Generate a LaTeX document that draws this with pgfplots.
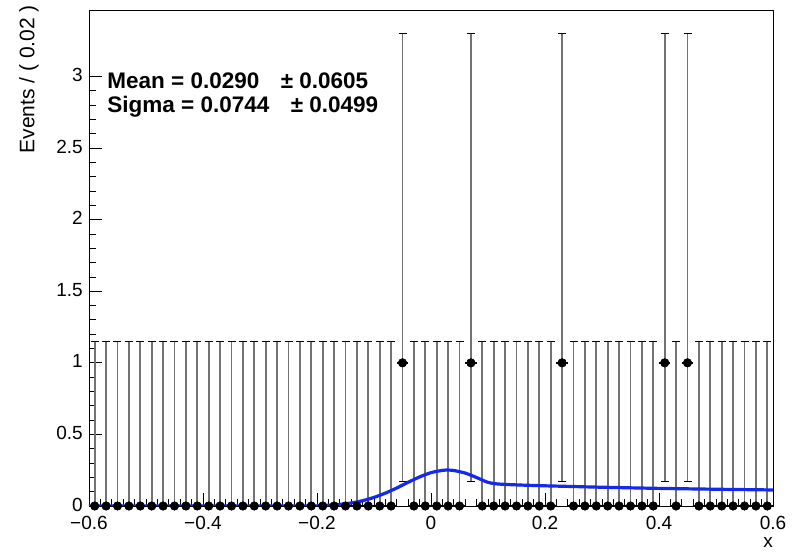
\documentclass[border=0pt]{standalone}
\usepackage{pgfplots}
\pgfplotsset{compat=1.18}
\usepackage{pgfplotstable}
\usepackage{fontspec}
\setmainfont{Liberation Sans}

\pgfplotstableread{
x y ep em
-0.59 0 1.148 0
-0.57 0 1.148 0
-0.55 0 1.148 0
-0.53 0 1.148 0
-0.51 0 1.148 0
-0.49 0 1.148 0
-0.47 0 1.148 0
-0.45 0 1.148 0
-0.43 0 1.148 0
-0.41 0 1.148 0
-0.39 0 1.148 0
-0.37 0 1.148 0
-0.35 0 1.148 0
-0.33 0 1.148 0
-0.31 0 1.148 0
-0.29 0 1.148 0
-0.27 0 1.148 0
-0.25 0 1.148 0
-0.23 0 1.148 0
-0.21 0 1.148 0
-0.19 0 1.148 0
-0.17 0 1.148 0
-0.15 0 1.148 0
-0.13 0 1.148 0
-0.11 0 1.148 0
-0.09 0 1.148 0
-0.07 0 1.148 0
-0.05 1 2.299 0.827
-0.03 0 1.148 0
-0.01 0 1.148 0
0.01 0 1.148 0
0.03 0 1.148 0
0.05 0 1.148 0
0.07 1 2.299 0.827
0.09 0 1.148 0
0.11 0 1.148 0
0.13 0 1.148 0
0.15 0 1.148 0
0.17 0 1.148 0
0.19 0 1.148 0
0.21 0 1.148 0
0.23 1 2.299 0.827
0.25 0 1.148 0
0.27 0 1.148 0
0.29 0 1.148 0
0.31 0 1.148 0
0.33 0 1.148 0
0.35 0 1.148 0
0.37 0 1.148 0
0.39 0 1.148 0
0.41 1 2.299 0.827
0.43 0 1.148 0
0.45 1 2.299 0.827
0.47 0 1.148 0
0.49 0 1.148 0
0.51 0 1.148 0
0.53 0 1.148 0
0.55 0 1.148 0
0.57 0 1.148 0
0.59 0 1.148 0
}\databins

\pgfplotstableread{
x y
-0.60 0
-0.22 0
-0.20 0.002
-0.18 0.005
-0.16 0.011
-0.14 0.021
-0.12 0.037
-0.10 0.060
-0.08 0.090
-0.06 0.126
-0.04 0.166
-0.02 0.203
0.00 0.233
0.02 0.249
0.03 0.251
0.04 0.248
0.06 0.230
0.08 0.199
0.09 0.181
0.10 0.165
0.11 0.157
0.12 0.153
0.14 0.149
0.16 0.146
0.20 0.141
0.25 0.136
0.30 0.131
0.40 0.123
0.50 0.117
0.60 0.112
}\curve

\begin{document}
\begin{tikzpicture}[font=\fontsize{19bp}{22bp}\selectfont]
\begin{axis}[
  name=ax,
  scale only axis,
  width=684bp, height=496bp,
  xmin=-0.6, xmax=0.6,
  ymin=0, ymax=3.465,
  axis line style={line width=0.9bp},
  tick align=inside,
  xtick pos=left, ytick pos=left,
  xtick={-0.6,-0.4,-0.2,0,0.2,0.4,0.6},
  xticklabels={−0.6,−0.4,−0.2,0,0.2,0.4,0.6},
  ytick={0,0.5,1,1.5,2,2.5,3},
  yticklabels={0,0.5,1,1.5,2,2.5,3},
  minor x tick num=9,
  minor y tick num=4,
  major tick length=13bp,
  minor tick length=7bp,
  every tick/.style={black, line width=0.9bp},
  tick label style={font=\fontsize{19bp}{22bp}\selectfont, inner sep=0.5bp},
  xticklabel style={yshift=-9.5bp},
  yticklabel style={xshift=-5.5bp, yshift=1.5bp},
  clip=true,
]
\addplot[only marks, mark=*, mark size=4.2bp, black,
  error bars/.cd, y dir=both, y explicit,
  error bar style={black!55, line width=1.7bp},
  error mark options={black, rotate=90, line width=0.9bp, mark size=4bp}]
  table[x=x, y=y, y error plus=ep, y error minus=em] {\databins};
\addplot[only marks, mark=*, mark size=4.2bp, black,
  error bars/.cd, x dir=both, x fixed=0.01,
  error bar style={black, line width=1.6bp},
  error mark=none]
  table[x=x, y=y] {\databins};
\addplot[color={rgb,255:red,20;green,40;blue,240}, line width=3.2bp, smooth, tension=0.4, mark=none]
  table[x=x, y=y] {\curve};
\node[anchor=base west, inner sep=0, font=\fontsize{22.5bp}{26bp}\selectfont\bfseries] at (axis cs:-0.568,2.914) {Mean = 0.0290\hspace{0.95em}± 0.0605};
\node[anchor=base west, inner sep=0, font=\fontsize{22.5bp}{26bp}\selectfont\bfseries] at (axis cs:-0.568,2.746) {Sigma = 0.0744\hspace{0.95em}± 0.0499};
\end{axis}
\node[rotate=90, anchor=south east, inner sep=0, font=\fontsize{21bp}{24bp}\selectfont] at ([xshift=-50bp,yshift=5bp]ax.north west) {Events / ( 0.02 )};
\node[anchor=north east, inner sep=0] at ([xshift=0bp,yshift=-31bp]ax.south east) {x};
\path ([xshift=-89bp,yshift=-46bp]ax.south west) rectangle ([xshift=20bp,yshift=10bp]ax.north east);
\end{tikzpicture}
\end{document}
